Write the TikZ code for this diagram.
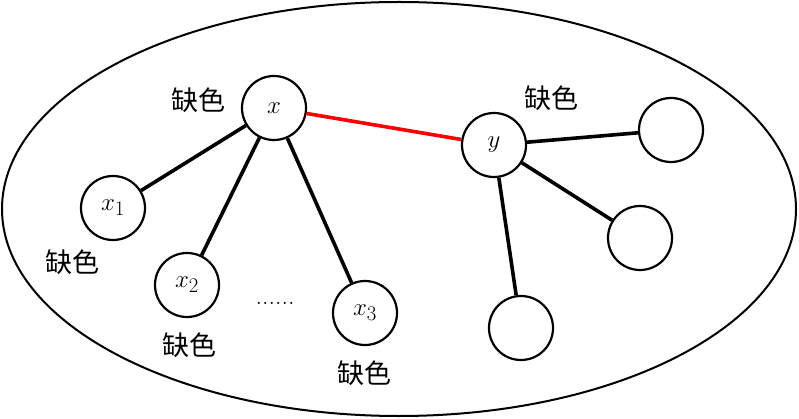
\documentclass[tikz,border=0pt]{standalone}
\usepackage{fontspec}
\newfontfamily\cjk{Noto Sans CJK SC}
\begin{document}
\begin{tikzpicture}[x=1pt,y=-1pt,
  vert/.style={circle,draw,line width=2.2pt,minimum size=64pt,inner sep=0pt,fill=white,font=\fontsize{32}{36}\selectfont},
  edge/.style={line width=3.6pt},
  lab/.style={font=\cjk\fontsize{27}{30}\selectfont}]
\useasboundingbox (0,0) rectangle (799,419);
\draw[line width=2pt] (399,209) ellipse [x radius=397, y radius=207];
\node[vert] (x) at (274,108) {$x$};
\node[vert] (y) at (494,145) {$y$};
\node[vert] (x1) at (113,208) {$x_1$};
\node[vert] (x2) at (187,285) {$x_2$};
\node[vert] (x3) at (365,313) {$x_3$};
\node[vert] (r1) at (671,130) {};
\node[vert] (r2) at (640,238) {};
\node[vert] (r3) at (521,328) {};
\draw[edge,red] (x) -- (y);
\draw[edge] (x) -- (x1);
\draw[edge] (x) -- (x2);
\draw[edge] (x) -- (x3);
\draw[edge] (y) -- (r1);
\draw[edge] (y) -- (r2);
\draw[edge] (y) -- (r3);
\node[lab] (lx) at (198,100) {缺色};
\node[lab] (ly) at (551,98) {缺色};
\node[lab] (l1) at (72,262) {缺色};
\node[lab] (l2) at (189,345) {缺色};
\node[lab] (l3) at (364,373) {缺色};
\node[font=\fontsize{26}{28}\selectfont] (dots) at (275,303) {......};
\end{tikzpicture}
\end{document}
